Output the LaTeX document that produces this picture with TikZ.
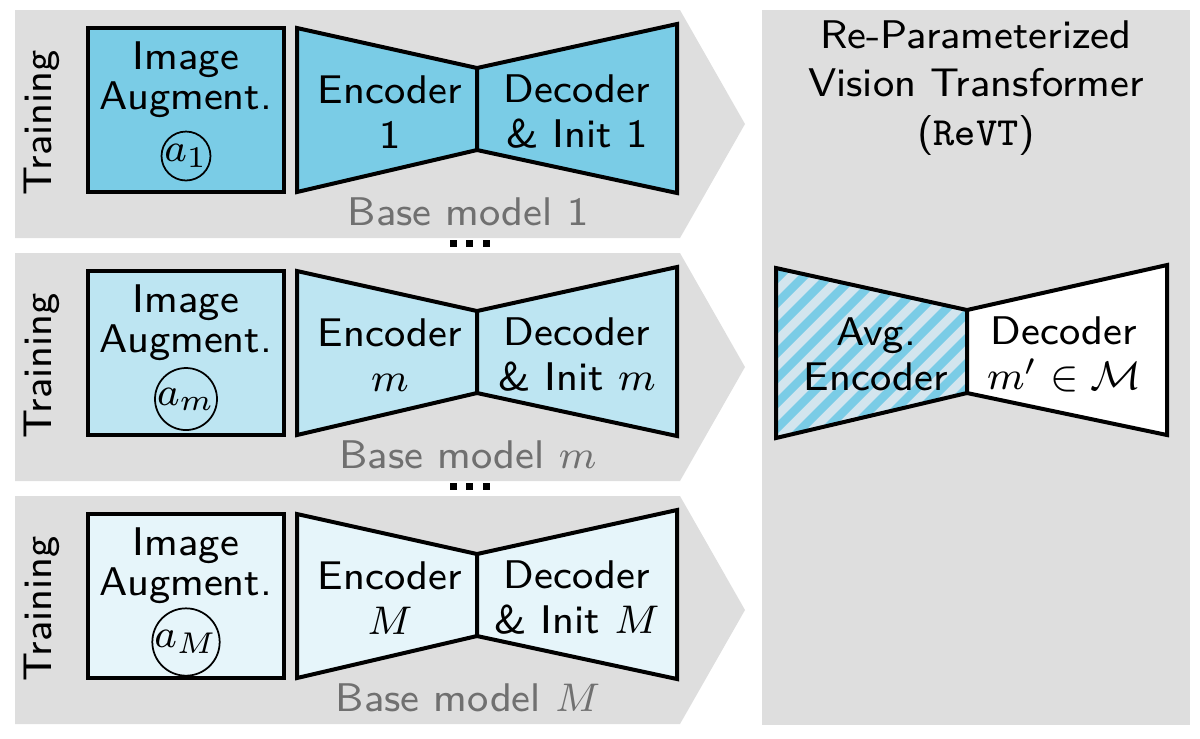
\documentclass[tikz,border=0pt]{standalone}
\usetikzlibrary{calc}
\definecolor{gbg}{HTML}{DEDEDE}
\definecolor{cA}{HTML}{7ACCE6}
\definecolor{cB}{HTML}{BDE5F2}
\definecolor{cC}{HTML}{E6F5FA}
\definecolor{hatchbg}{HTML}{D3E5EE}
\definecolor{basegray}{HTML}{707070}
\begin{document}
\begin{tikzpicture}[x=0.2pt,y=0.2pt,
  every node/.style={font=\fontsize{8}{8}\selectfont\sffamily, align=center, inner sep=0pt},
  outl/.style={draw=black, line width=0.8pt, line join=miter},
  boxtxt/.style={font=\fontsize{8}{8}\selectfont\sffamily},
  encdec/.style={font=\fontsize{8}{9}\selectfont\sffamily},
  basetxt/.style={text=basegray},
  augcirc/.style={circle, draw=black, line width=0.35pt, minimum size=9pt, inner sep=0pt},
  dotsq/.style={fill=black}]
\useasboundingbox (0,0) rectangle (1200,-738);

% right panel
\fill[gbg] (762,-10) rectangle (1190,-725);

\foreach \r/\col/\lab/\sub in {0/cA/1/1, 1/cB/$m$/m, 2/cC/$M$/M}{
  \begin{scope}[shift={(0,{-243*\r})}]
    \fill[gbg] (15,-10) -- (680,-10) -- (745,-124) -- (680,-238) -- (15,-238) -- cycle;
    \node[rotate=90] (train\r) at (42,-123) {Training};
    \node[outl, fill=\col, minimum width=39.2pt, minimum height=32.8pt] (img\r) at (186,-110) {};
    \node[boxtxt] (imgt\r) at (186,-80) {Image\\Augment.};
    \node[augcirc] (aug\r) at (186,-156) {$a_{\sub}$};
    \coordinate (e1\r) at (297,-28);
    \coordinate (e2\r) at (477,-68);
    \coordinate (e3\r) at (477,-150);
    \coordinate (e4\r) at (297,-192);
    \coordinate (d2\r) at (677,-24);
    \coordinate (d3\r) at (677,-193);
    \draw[outl, fill=\col] (e1\r) -- (e2\r) -- (e3\r) -- (e4\r) -- cycle;
    \draw[outl, fill=\col] (e2\r) -- (d2\r) -- (d3\r) -- (e3\r) -- cycle;
    \node[encdec] (enc\r) at (390,-112) {Encoder\\\lab};
    \node[encdec] (dec\r) at (577,-112) {Decoder\\\& Init \lab};
    \node[basetxt] (base\r) at (468,-212) {Base model \lab};
  \end{scope}
}

% dots between rows
\foreach \k in {0,1}{
  \begin{scope}[shift={(0,{-243*\k})}]
    \fill[dotsq] (450,-240) rectangle (457,-247);
    \fill[dotsq] (466,-240) rectangle (473,-247);
    \fill[dotsq] (483,-240) rectangle (490,-247);
  \end{scope}
}

% title
\node[font=\fontsize{8}{9.7}\selectfont\sffamily] (title) at (976,-88) {Re-Parameterized\\Vision Transformer\\(\texttt{ReVT})};

% ReVT bowtie
\coordinate (a1) at (776,-268);
\coordinate (a2) at (967,-310);
\coordinate (a3) at (967,-393);
\coordinate (a4) at (776,-438);
\coordinate (b2) at (1167,-265);
\coordinate (b3) at (1167,-435);
\fill[hatchbg] (a1) -- (a2) -- (a3) -- (a4) -- cycle;
\begin{scope}
  \clip (a1) -- (a2) -- (a3) -- (a4) -- cycle;
  \foreach \i in {-10,...,20}{
    \draw[cA, line width=1.7pt] ({700+25*\i},-480) -- ({700+25*\i+260},-220);
  }
\end{scope}
\draw[outl] (a1) -- (a2) -- (a3) -- (a4) -- cycle;
\draw[outl, fill=white] (a2) -- (b2) -- (b3) -- (a3) -- cycle;
\node[encdec] (avg) at (876,-354) {Avg.\\Encoder};
\node[encdec] (rdec) at (1064,-354) {Decoder\\$m'\in\mathcal{M}$};
\end{tikzpicture}
\end{document}
